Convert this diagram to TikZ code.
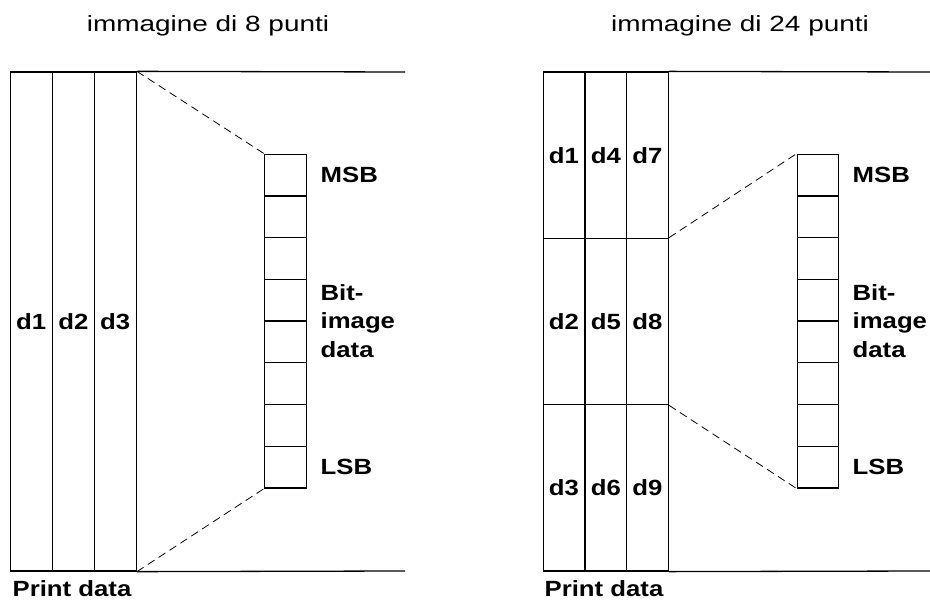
\documentclass[tikz,border=0pt]{standalone}
\usepackage{fontspec}
\setmainfont{Liberation Sans}
\newfontfamily\ttlfont[FakeStretch=1.27]{Liberation Sans}
\newfontfamily\labfont[FakeStretch=1.17]{Liberation Sans}
\begin{document}
\begin{tikzpicture}[x=1pt,y=-1pt, line width=1.3pt,
  cell/.style={draw, minimum width=42pt, inner sep=0, font=\labfont\bfseries\fontsize{22}{26}\selectfont},
  bitbox/.style={draw, minimum width=41.5pt, minimum height=41.7pt, inner sep=0},
  lab/.style={font=\labfont\bfseries\fontsize{22}{28.5}\selectfont, anchor=west, inner sep=0, align=left},
  title/.style={font=\ttlfont\fontsize{22}{26}\selectfont, anchor=base, inner sep=0},
  guide/.style={dash pattern=on 8pt off 5pt, line width=0.8pt}]
\useasboundingbox (0,0) rectangle (930,604);
% ---------- left panel ----------
\node[title] (t1) at (208,31.7) {immagine di 8 punti};
\node[cell, minimum height=499pt] (L1) at (31.25,321.5) {d1};
\node[cell, minimum height=499pt] (L2) at (73.5,321.5) {d2};
\node[cell, minimum height=499pt] (L3) at (115.25,321.5) {d3};
\coordinate (LTR) at (405,72);
\coordinate (LBR) at (405,571);
\draw (L3.north east) -- (LTR);
\draw (L3.south east) -- (LBR);
\foreach \i in {1,...,8}{
  \node[bitbox] (lb\i) at (285.5,{154.3+41.7*(\i-0.5)}) {};
}
\node[lab] (lmsb) at (320,175) {MSB};
\node[lab] (lbit) at (320,321) {Bit-\\image\\data};
\node[lab] (llsb) at (320,467) {LSB};
\draw[guide] (L3.north east) -- (lb1.north west);
\draw[guide] (L3.south east) -- (lb8.south west);
\node[lab, anchor=base west] (lpd) at (12,596) {Print data};
% ---------- right panel ----------
\node[title] (t2) at (740,31.7) {immagine di 24 punti};
\foreach \c/\x in {1/564,2/605.8,3/647.5}{
  \foreach \r/\y in {1/155.2,2/321.5,3/487.8}{
    \pgfmathtruncatemacro{\n}{3*(\c-1)+\r}
    \node[cell, minimum height=166.33pt, minimum width=41.7pt] (R\c\r) at (\x,\y) {d\n};
  }
}
\coordinate (RTR) at (930,72);
\coordinate (RBR) at (930,571);
\draw (R31.north east) -- (RTR);
\draw (R33.south east) -- (RBR);
\foreach \i in {1,...,8}{
  \node[bitbox] (rb\i) at (818,{154.3+41.7*(\i-0.5)}) {};
}
\node[lab] (rmsb) at (852,175) {MSB};
\node[lab] (rbit) at (852,321) {Bit-\\image\\data};
\node[lab] (rlsb) at (852,467) {LSB};
\draw[guide] (R32.north east) -- (rb1.north west);
\draw[guide] (R32.south east) -- (rb8.south west);
\node[lab, anchor=base west] (rpd) at (544,596) {Print data};
\end{tikzpicture}
\end{document}
